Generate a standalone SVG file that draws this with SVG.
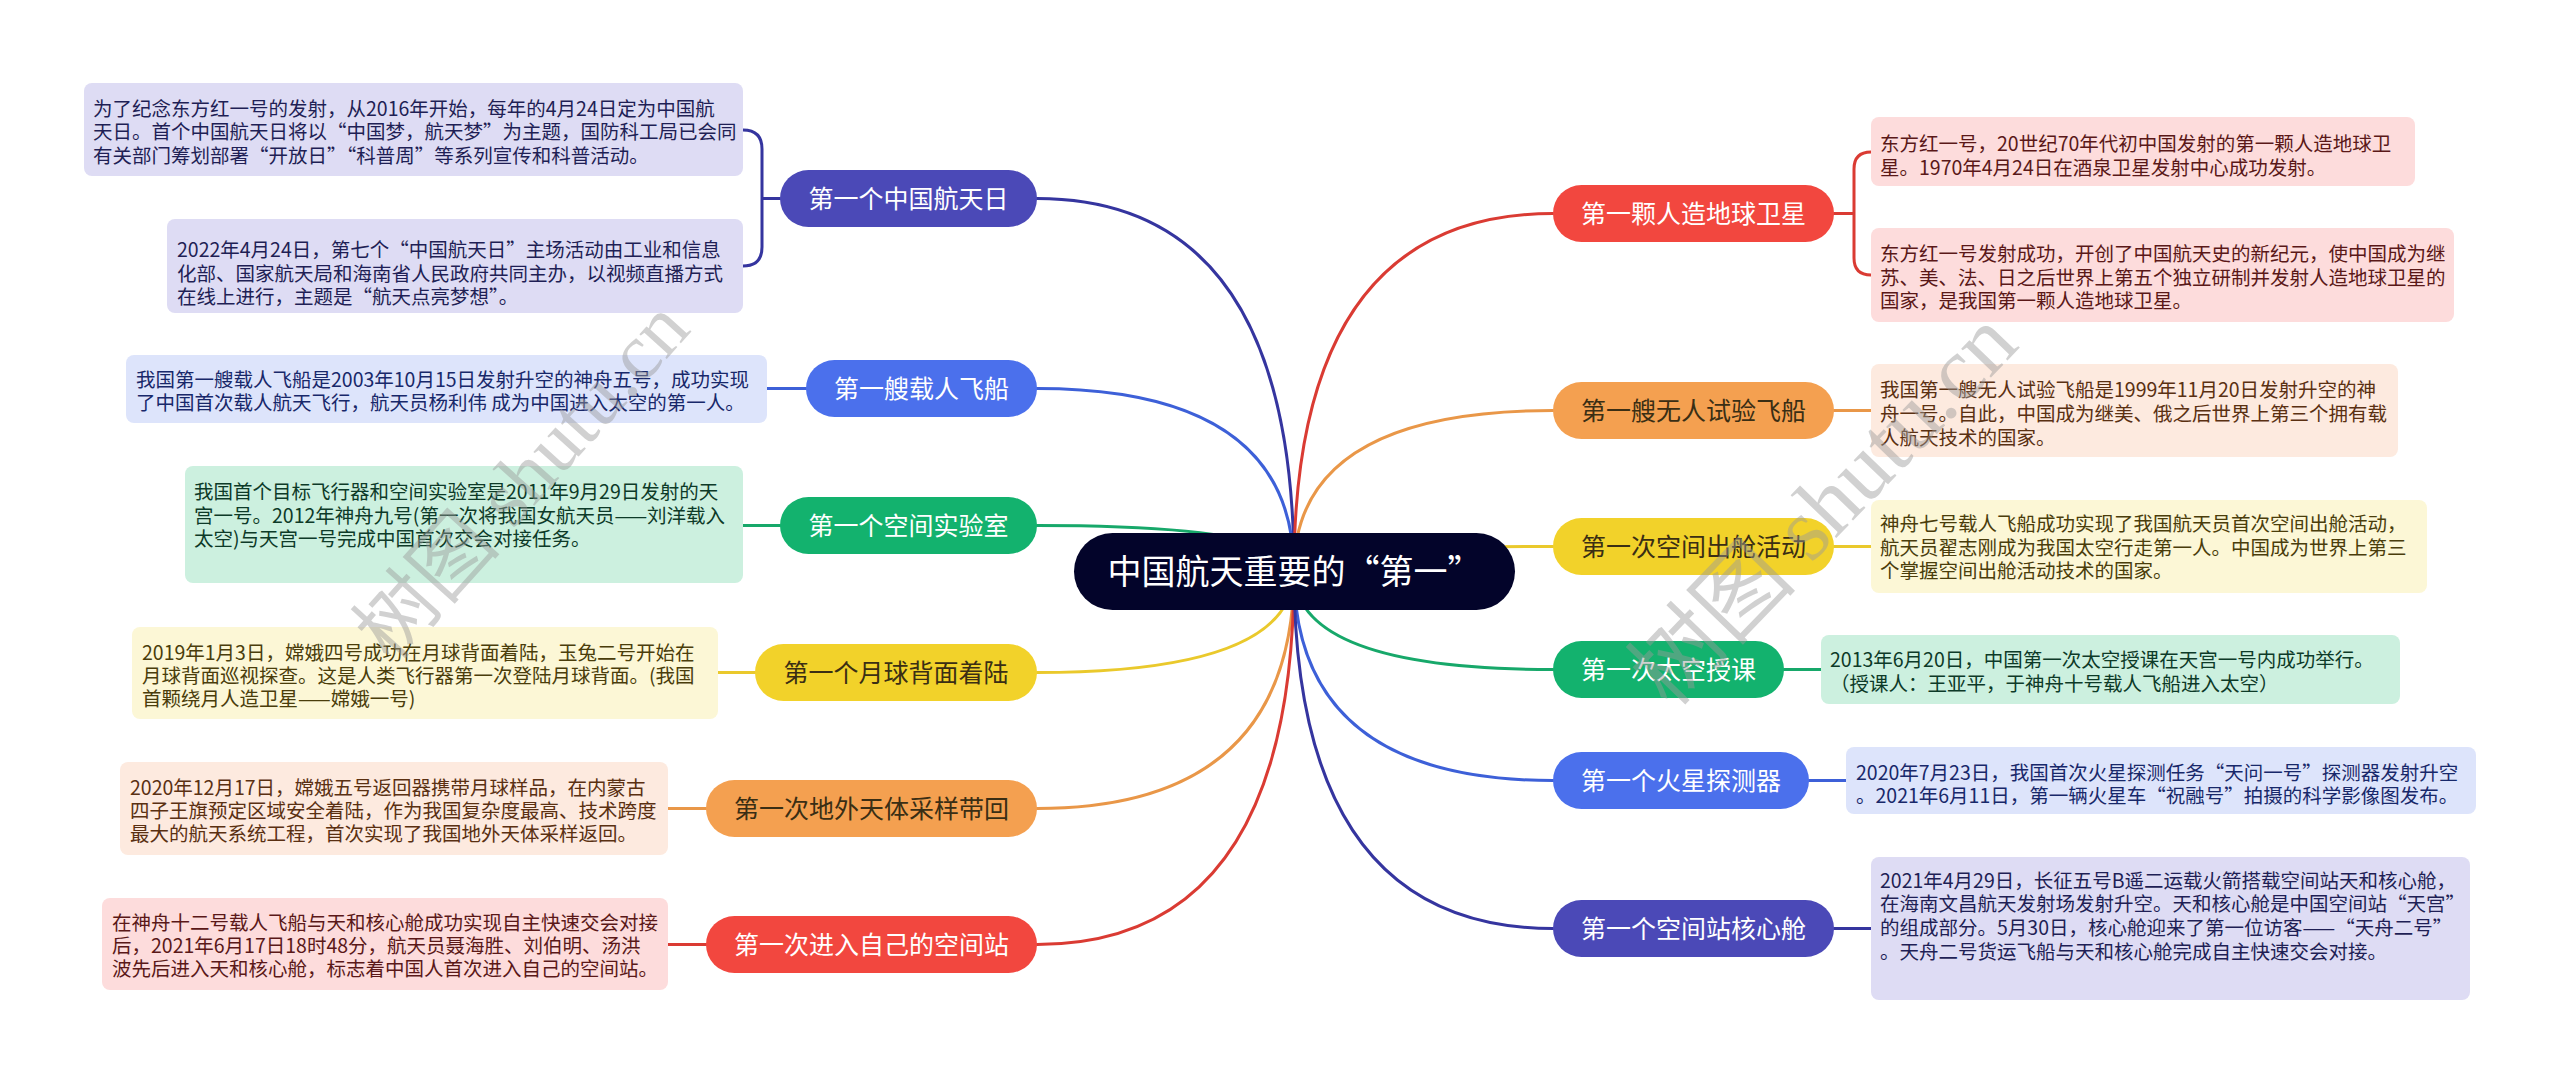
<svg xmlns="http://www.w3.org/2000/svg" width="2560" height="1084" viewBox="0 0 2560 1084">
<style>
text{font-family:"Noto Sans CJK SC","Microsoft YaHei",sans-serif}
.lt{font-size:19.5px}
.nt{font-size:25px;text-anchor:middle}
.wm{font-family:"Liberation Serif","Noto Sans CJK SC",serif;fill:#9a9a9a;opacity:0.45}
.ln{fill:none;stroke-width:3;stroke-linecap:round}
.c-ind{stroke:#35359f}.c-blu{stroke:#3d60d8}.c-grn{stroke:#17a86a}.c-yel{stroke:#eac92c}.c-org{stroke:#e99748}.c-red{stroke:#da3b33}
.f-ind{fill:#4b49b7}.f-blu{fill:#4b70ec}.f-grn{fill:#13b26e}.f-yel{fill:#f2d22a}.f-org{fill:#f4a050}.f-red{fill:#f2473f}
.b-ind{fill:#dedcf4}.b-blu{fill:#dde4fb}.b-grn{fill:#ccf0df}.b-yel{fill:#fcf7d6}.b-org{fill:#fdeadf}.b-red{fill:#fddcdc}
.t-ind{fill:#1f1f55}.t-blu{fill:#18286a}.t-grn{fill:#0d3a28}.t-yel{fill:#4a3d0b}.t-org{fill:#5a3012}.t-red{fill:#5a1818}
.wt{fill:#ffffff}.dk{fill:#3a2e14}
</style>
<rect width="2560" height="1084" fill="#ffffff"/>

<g id="connectors">
  <path class="ln c-ind" d="M1037 198.5 Q1294 198.5 1294 571"/>
  <path class="ln c-blu" d="M1037 388.5 Q1294 388.5 1294 571"/>
  <path class="ln c-grn" d="M1037 525.5 Q1294 525.5 1294 571"/>
  <path class="ln c-yel" d="M1037 672.5 Q1294 672.5 1294 571"/>
  <path class="ln c-org" d="M1037 808.5 Q1294 808.5 1294 571"/>
  <path class="ln c-red" d="M1037 944.5 Q1294 944.5 1294 571"/>
  <path class="ln c-red" d="M1553 213.5 Q1294 213.5 1294 571"/>
  <path class="ln c-org" d="M1553 410.5 Q1294 410.5 1294 571"/>
  <path class="ln c-yel" d="M1553 546.5 Q1294 546.5 1294 571"/>
  <path class="ln c-grn" d="M1553 669.5 Q1294 669.5 1294 571"/>
  <path class="ln c-blu" d="M1553 780.5 Q1294 780.5 1294 571"/>
  <path class="ln c-ind" d="M1553 928.5 Q1294 928.5 1294 571"/>
  <!-- leaf connectors -->
  <path class="ln c-ind" d="M780 198.5 H762 M743 130 Q762 130 762 149 V247 Q762 266 743 266"/>
  <path class="ln c-blu" d="M806 388.5 H767"/>
  <path class="ln c-grn" d="M780 525.5 H743"/>
  <path class="ln c-yel" d="M755 672.5 H718"/>
  <path class="ln c-org" d="M706 808.5 H668"/>
  <path class="ln c-red" d="M706 944.5 H668"/>
  <path class="ln c-red" d="M1834 213.5 H1854 M1871 152 Q1854 152 1854 169 V258 Q1854 275 1871 275"/>
  <path class="ln c-org" d="M1834 410.5 H1871"/>
  <path class="ln c-yel" d="M1834 546.5 H1871"/>
  <path class="ln c-grn" d="M1784 669.5 H1821"/>
  <path class="ln c-blu" d="M1809 780.5 H1846"/>
  <path class="ln c-ind" d="M1834 928.5 H1871"/>
</g>

<g id="center">
  <rect x="1074" y="533" width="441" height="77" rx="38.5" fill="#03042a"/>
  <text x="1294.5" y="584" font-size="34" text-anchor="middle" class="wt">中国航天重要的“第一”</text>
</g>

<!-- left nodes -->
<g id="n1"><rect class="f-ind" x="780" y="170" width="257" height="57" rx="28.5"/><text class="nt wt" x="908.5" y="208">第一个中国航天日</text></g>
<g id="n2"><rect class="f-blu" x="806" y="360" width="231" height="57" rx="28.5"/><text class="nt wt" x="921.5" y="398">第一艘载人飞船</text></g>
<g id="n3"><rect class="f-grn" x="780" y="497" width="257" height="57" rx="28.5"/><text class="nt wt" x="908.5" y="535">第一个空间实验室</text></g>
<g id="n4"><rect class="f-yel" x="755" y="644" width="282" height="57" rx="28.5"/><text class="nt dk" x="896" y="682">第一个月球背面着陆</text></g>
<g id="n5"><rect class="f-org" x="706" y="780" width="331" height="57" rx="28.5"/><text class="nt dk" x="871.5" y="818">第一次地外天体采样带回</text></g>
<g id="n6"><rect class="f-red" x="706" y="916" width="331" height="57" rx="28.5"/><text class="nt wt" x="871.5" y="954">第一次进入自己的空间站</text></g>

<!-- right nodes -->
<g id="r1"><rect class="f-red" x="1553" y="185" width="281" height="57" rx="28.5"/><text class="nt wt" x="1693.5" y="223">第一颗人造地球卫星</text></g>
<g id="r2"><rect class="f-org" x="1553" y="382" width="281" height="57" rx="28.5"/><text class="nt dk" x="1693.5" y="420">第一艘无人试验飞船</text></g>
<g id="r3"><rect class="f-yel" x="1553" y="518" width="281" height="57" rx="28.5"/><text class="nt dk" x="1693.5" y="556">第一次空间出舱活动</text></g>
<g id="r4"><rect class="f-grn" x="1553" y="641" width="231" height="57" rx="28.5"/><text class="nt wt" x="1668.5" y="679">第一次太空授课</text></g>
<g id="r5"><rect class="f-blu" x="1553" y="752" width="256" height="57" rx="28.5"/><text class="nt wt" x="1681" y="790">第一个火星探测器</text></g>
<g id="r6"><rect class="f-ind" x="1553" y="900" width="281" height="57" rx="28.5"/><text class="nt wt" x="1693.5" y="938">第一个空间站核心舱</text></g>

<!-- left leaves -->
<g id="l1a"><rect class="b-ind" x="84" y="83" width="659" height="93" rx="8"/>
<text class="lt t-ind"><tspan x="93" y="115.5">为了纪念东方红一号的发射，从2016年开始，每年的4月24日定为中国航</tspan><tspan x="93" y="139">天日。首个中国航天日将以“中国梦，航天梦”为主题，国防科工局已会同</tspan><tspan x="93" y="163">有关部门筹划部署“开放日”“科普周”等系列宣传和科普活动。</tspan></text></g>
<g id="l1b"><rect class="b-ind" x="167" y="219" width="576" height="94" rx="8"/>
<text class="lt t-ind"><tspan x="177" y="257">2022年4月24日，第七个“中国航天日”主场活动由工业和信息</tspan><tspan x="177" y="280.5">化部、国家航天局和海南省人民政府共同主办，以视频直播方式</tspan><tspan x="177" y="304">在线上进行，主题是“航天点亮梦想”。</tspan></text></g>
<g id="l2"><rect class="b-blu" x="126" y="355" width="641" height="68" rx="8"/>
<text class="lt t-blu"><tspan x="136" y="386.5">我国第一艘载人飞船是2003年10月15日发射升空的神舟五号，成功实现</tspan><tspan x="136" y="409.5">了中国首次载人航天飞行，航天员杨利伟 成为中国进入太空的第一人。</tspan></text></g>
<g id="l3"><rect class="b-grn" x="185" y="466" width="558" height="117" rx="8"/>
<text class="lt t-grn"><tspan x="194" y="499">我国首个目标飞行器和空间实验室是2011年9月29日发射的天</tspan><tspan x="194" y="522.5">宫一号。2012年神舟九号(第一次将我国女航天员——刘洋载入</tspan><tspan x="194" y="546">太空)与天宫一号完成中国首次交会对接任务。</tspan></text></g>
<g id="l4"><rect class="b-yel" x="132" y="627" width="586" height="92" rx="8"/>
<text class="lt t-yel"><tspan x="142" y="659.5">2019年1月3日，嫦娥四号成功在月球背面着陆，玉兔二号开始在</tspan><tspan x="142" y="682.5">月球背面巡视探查。这是人类飞行器第一次登陆月球背面。(我国</tspan><tspan x="142" y="705.5">首颗绕月人造卫星——嫦娥一号)</tspan></text></g>
<g id="l5"><rect class="b-org" x="120" y="762" width="548" height="93" rx="8"/>
<text class="lt t-org"><tspan x="130" y="795">2020年12月17日，嫦娥五号返回器携带月球样品，在内蒙古</tspan><tspan x="130" y="818">四子王旗预定区域安全着陆，作为我国复杂度最高、技术跨度</tspan><tspan x="130" y="840.5">最大的航天系统工程，首次实现了我国地外天体采样返回。</tspan></text></g>
<g id="l6"><rect class="b-red" x="102" y="898" width="566" height="92" rx="8"/>
<text class="lt t-red"><tspan x="112" y="929.5">在神舟十二号载人飞船与天和核心舱成功实现自主快速交会对接</tspan><tspan x="112" y="952.5">后，2021年6月17日18时48分，航天员聂海胜、刘伯明、汤洪</tspan><tspan x="112" y="975.5">波先后进入天和核心舱，标志着中国人首次进入自己的空间站。</tspan></text></g>

<!-- right leaves -->
<g id="r1a"><rect class="b-red" x="1871" y="117" width="544" height="69" rx="8"/>
<text class="lt t-red"><tspan x="1880" y="150.5">东方红一号，20世纪70年代初中国发射的第一颗人造地球卫</tspan><tspan x="1880" y="174.5">星。1970年4月24日在酒泉卫星发射中心成功发射。</tspan></text></g>
<g id="r1b"><rect class="b-red" x="1871" y="228" width="583" height="94" rx="8"/>
<text class="lt t-red"><tspan x="1880" y="260.5">东方红一号发射成功，开创了中国航天史的新纪元，使中国成为继</tspan><tspan x="1880" y="284.5">苏、美、法、日之后世界上第五个独立研制并发射人造地球卫星的</tspan><tspan x="1880" y="307.5">国家，是我国第一颗人造地球卫星。</tspan></text></g>
<g id="r2l"><rect class="b-org" x="1871" y="364" width="527" height="93" rx="8"/>
<text class="lt t-org"><tspan x="1880" y="396.5">我国第一艘无人试验飞船是1999年11月20日发射升空的神</tspan><tspan x="1880" y="420.5">舟一号。自此，中国成为继美、俄之后世界上第三个拥有载</tspan><tspan x="1880" y="444.5">人航天技术的国家。</tspan></text></g>
<g id="r3l"><rect class="b-yel" x="1871" y="500" width="556" height="93" rx="8"/>
<text class="lt t-yel"><tspan x="1880" y="530.5">神舟七号载人飞船成功实现了我国航天员首次空间出舱活动，</tspan><tspan x="1880" y="554.5">航天员翟志刚成为我国太空行走第一人。中国成为世界上第三</tspan><tspan x="1880" y="577.5">个掌握空间出舱活动技术的国家。</tspan></text></g>
<g id="r4l"><rect class="b-grn" x="1821" y="635" width="579" height="69" rx="8"/>
<text class="lt t-grn"><tspan x="1830" y="666.5">2013年6月20日，中国第一次太空授课在天宫一号内成功举行。</tspan><tspan x="1830" y="690.5">（授课人：王亚平，于神舟十号载人飞船进入太空）</tspan></text></g>
<g id="r5l"><rect class="b-blu" x="1846" y="747" width="630" height="67" rx="8"/>
<text class="lt t-blu"><tspan x="1856" y="779.5">2020年7月23日，我国首次火星探测任务“天问一号”探测器发射升空</tspan><tspan x="1856" y="802.5">。2021年6月11日，第一辆火星车“祝融号”拍摄的科学影像图发布。</tspan></text></g>
<g id="r6l"><rect class="b-ind" x="1871" y="857" width="599" height="143" rx="8"/>
<text class="lt t-ind"><tspan x="1880" y="887.5">2021年4月29日，长征五号B遥二运载火箭搭载空间站天和核心舱，</tspan><tspan x="1880" y="911">在海南文昌航天发射场发射升空。天和核心舱是中国空间站“天宫”</tspan><tspan x="1880" y="935">的组成部分。5月30日，核心舱迎来了第一位访客——“天舟二号”</tspan><tspan x="1880" y="959">。天舟二号货运飞船与天和核心舱完成自主快速交会对接。</tspan></text></g>

<g id="watermark">
  <text class="wm" font-size="80" x="392" y="664" transform="rotate(-48 392 664)">树图 shutu.cn</text>
  <text class="wm" font-size="90" x="1670" y="710" transform="rotate(-46 1670 710)">树图 shutu.cn</text>
</g>
</svg>
